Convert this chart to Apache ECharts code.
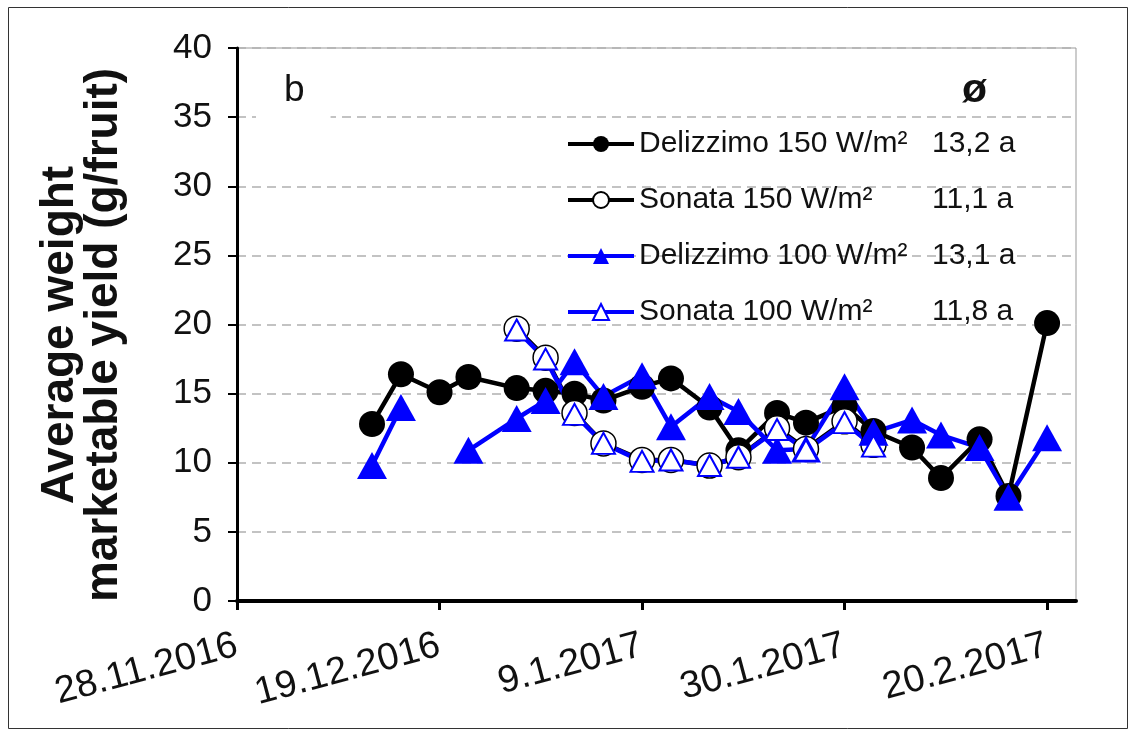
<!DOCTYPE html>
<html>
<head>
<meta charset="utf-8">
<script src="https://cdn.jsdelivr.net/npm/echarts@6/dist/echarts.min.js"></script>
<style>
html,body{margin:0;padding:0;background:#fff;}
#chart{width:1133px;height:736px;}
</style>
</head>
<body>
<div id="chart"></div>
<script>
// ---- data ----
const baseDate = '28.11.2016';
const dates = ['12.12.2016','15.12.2016','19.12.2016','22.12.2016','27.12.2016','30.12.2016','2.1.2017','5.1.2017','9.1.2017','12.1.2017','16.1.2017','19.1.2017','23.1.2017','26.1.2017','30.1.2017','2.2.2017','6.2.2017','9.2.2017','13.2.2017','16.2.2017','20.2.2017'];
const delizzimo150 = [12.8,16.4,15.1,16.2,15.4,15.2,15.0,14.5,15.5,16.1,14.0,10.9,13.6,12.9,14.1,12.3,11.1,8.9,11.7,7.6,20.1];
const sonata150    = [null,null,null,null,19.7,17.6,13.6,11.4,10.2,10.2,9.8,10.4,12.5,11.0,13.0,11.3,null,null,null,null,null];
const delizzimo100 = [9.8,14.0,null,10.9,13.2,14.5,17.3,14.8,16.3,12.6,14.8,13.7,10.9,11.0,15.5,12.2,13.1,12.0,11.1,7.5,11.8];
const sonata100    = [null,null,null,null,19.6,17.5,13.5,11.4,10.1,10.2,9.8,10.4,12.4,10.9,12.9,11.2,null,null,null,null,null];
const seriesNames = ['Delizzimo 150 W/m²','Sonata 150 W/m²','Delizzimo 100 W/m²','Sonata 100 W/m²'];
const seriesMeans = ['13,2 a','11,1 a','13,1 a','11,8 a'];
const xTickLabels = ['28.11.2016','19.12.2016','9.1.2017','30.1.2017','20.2.2017'];
const yTicks = [0,5,10,15,20,25,30,35,40];

function parseD(s){const p=s.split('.');return Date.UTC(+p[2],+p[1]-1,+p[0]);}
const base = parseD(baseDate);
const dayX = dates.map(d => Math.round((parseD(d)-base)/86400000));
function pts(arr){return arr.map((v,i)=>[dayX[i], v]);}

const BLUE = '#0000ff';
const FONT = 'Liberation Sans, Arial, sans-serif';
const chart = echarts.init(document.getElementById('chart'), null, {renderer:'canvas'});
const meanMap = {};
seriesNames.forEach((n,i)=>meanMap[n]=seriesMeans[i]);
const xTickVals = xTickLabels.map((_,i)=>i*21);

chart.setOption({
  animation:false,
  backgroundColor:'#fff',
  grid:{left:237,top:48,right:57,bottom:135,show:true,borderColor:'#999',borderWidth:1},
  xAxis:{
    type:'value', min:0, max:87, interval:21,
    axisLine:{lineStyle:{color:'#000',width:4}},
    axisTick:{show:true,length:9,lineStyle:{color:'#000',width:3},customValues:xTickVals},
    axisLabel:{rotate:15,margin:44,fontSize:38,color:'#111',fontFamily:FONT,
      customValues:xTickVals,
      formatter:v=>{const i=Math.round(v/21);return (Math.abs(v-i*21)<1e-6 && xTickLabels[i])?xTickLabels[i]:'';}},
    splitLine:{show:false}
  },
  yAxis:{
    type:'value', min:yTicks[0], max:yTicks[yTicks.length-1], interval:5,
    axisLine:{show:true,lineStyle:{color:'#000',width:3}},
    axisTick:{show:true,length:9,lineStyle:{color:'#000',width:2}},
    axisLabel:{fontSize:35,color:'#111',margin:25,fontFamily:FONT},
    splitLine:{show:true,lineStyle:{color:'#b0b0b0',width:1.5,type:[9,6]}}
  },
  legend:{
    orient:'vertical', left:561, top:124, itemWidth:66, itemHeight:20, itemGap:26,
    data:seriesNames,
    lineStyle:{width:4},
    textStyle:{fontSize:30,color:'#111',fontFamily:FONT,lineHeight:30,
      rich:{n:{fontSize:30,width:293,color:'#111',fontFamily:FONT},
            m:{fontSize:30,color:'#111',fontFamily:FONT}}},
    formatter:n=>'{n|'+n+'}{m|'+meanMap[n]+'}'
  },
  graphic:[
    {type:'rect',shape:{x:8.5,y:7.5,width:1119,height:721},style:{fill:'none',stroke:'#333',lineWidth:1},silent:true,z:-10},
    {type:'text',left:256,top:60,style:{text:'b',fontSize:37,fill:'#111',fontFamily:FONT,backgroundColor:'#fff',padding:[12,26,12,28]},z:5},
    {type:'text',left:962,top:70,style:{text:'ø',fontSize:41,fontWeight:'bold',fill:'#111',fontFamily:FONT}},
    {type:'text',x:82,y:335,rotation:Math.PI/2,style:{text:'Average weight\nmarketable yield (g/fruit)',fontSize:46,fontWeight:'bold',fill:'#111',fontFamily:FONT,align:'center',verticalAlign:'middle',lineHeight:44}}
  ],
  series:[
    {name:seriesNames[0],type:'line',data:pts(delizzimo150),symbol:'circle',symbolSize:26,
     lineStyle:{color:'#000',width:4.5},itemStyle:{color:'#000'}},
    {name:seriesNames[1],type:'line',data:pts(sonata150),symbol:'circle',symbolSize:25,
     lineStyle:{color:'#000',width:4.5},itemStyle:{color:'#fff',borderColor:'#000',borderWidth:1.5}},
    {name:seriesNames[2],type:'line',data:pts(delizzimo100),symbol:'triangle',symbolSize:[30,27],connectNulls:false,
     lineStyle:{color:BLUE,width:4.5},itemStyle:{color:BLUE}},
    {name:seriesNames[3],type:'line',data:pts(sonata100),symbol:'triangle',symbolSize:[23,21],
     lineStyle:{color:BLUE,width:4.5},itemStyle:{color:'#fff',borderColor:BLUE,borderWidth:2}}
  ]
});
</script>
</body>
</html>
